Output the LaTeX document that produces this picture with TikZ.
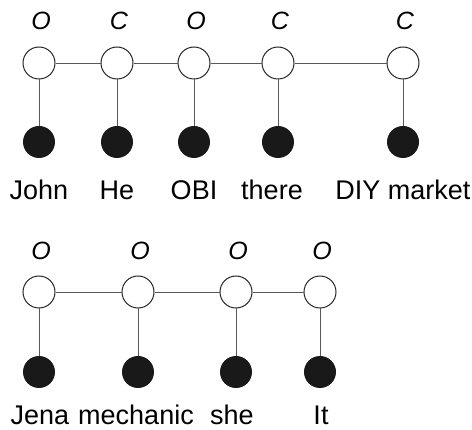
\documentclass[tikz,border=0pt]{standalone}
\usepackage{fontspec}
\setmainfont{Liberation Sans}

\begin{document}
\begin{tikzpicture}[x=1pt,y=-1pt,
  state/.style={circle,draw=black!85,line width=1pt,fill=white,minimum size=32pt,inner sep=0pt},
  obs/.style={circle,fill=black!90,minimum size=32pt,inner sep=0pt},
  tag/.style={anchor=base,inner sep=1pt,font=\fontsize{25}{28}\selectfont\itshape},
  word/.style={anchor=base,inner sep=1pt,font=\fontsize{27}{30}\selectfont},
  link/.style={draw=black!65,line width=0.9pt}]
\useasboundingbox (0,0) rectangle (472,430);

% first sentence
\node[state] (john) at (39,63) {};
\node[state] (he) at (117,63) {};
\node[state] (obi) at (194,63) {};
\node[state] (there) at (278,63) {};
\node[state] (diy) at (403,63) {};

\node[obs] (johnw) at (39,142) {};
\node[obs] (hew) at (117,142) {};
\node[obs] (obiw) at (194,142) {};
\node[obs] (therew) at (278,142) {};
\node[obs] (diyw) at (403,142) {};

\node[tag] (johnt) at (41,30) {O};
\node[tag] (het) at (119,30) {C};
\node[tag] (obit) at (196,30) {O};
\node[tag] (theret) at (280,30) {C};
\node[tag] (diyt) at (405,30) {C};

\node[word] (johnl) at (39,200) {John};
\node[word] (hel) at (117,200) {He};
\node[word] (obil) at (194,200) {OBI};
\node[word] (therel) at (272,200) {there};
\node[word] (diyl) at (403,200) {DIY market};

\draw[link] (john) -- (he) -- (obi) -- (there) -- (diy);
\draw[link] (john) -- (johnw);
\draw[link] (he) -- (hew);
\draw[link] (obi) -- (obiw);
\draw[link] (there) -- (therew);
\draw[link] (diy) -- (diyw);

% second sentence
\node[state] (jena) at (39,292) {};
\node[state] (mech) at (138,292) {};
\node[state] (she) at (236,292) {};
\node[state] (it) at (320,292) {};

\node[obs] (jenaw) at (39,372) {};
\node[obs] (mechw) at (138,372) {};
\node[obs] (shew) at (236,372) {};
\node[obs] (itw) at (320,372) {};

\node[tag] (jenat) at (41,260) {O};
\node[tag] (mecht) at (140,260) {O};
\node[tag] (shet) at (238,260) {O};
\node[tag] (itt) at (322,260) {O};

\node[word] (jenal) at (40,425) {Jena};
\node[word] (mechl) at (136,425) {mechanic};
\node[word] (shel) at (232,425) {she};
\node[word] (itl) at (321,425) {It};

\draw[link] (jena) -- (mech) -- (she) -- (it);
\draw[link] (jena) -- (jenaw);
\draw[link] (mech) -- (mechw);
\draw[link] (she) -- (shew);
\draw[link] (it) -- (itw);
\end{tikzpicture}
\end{document}
